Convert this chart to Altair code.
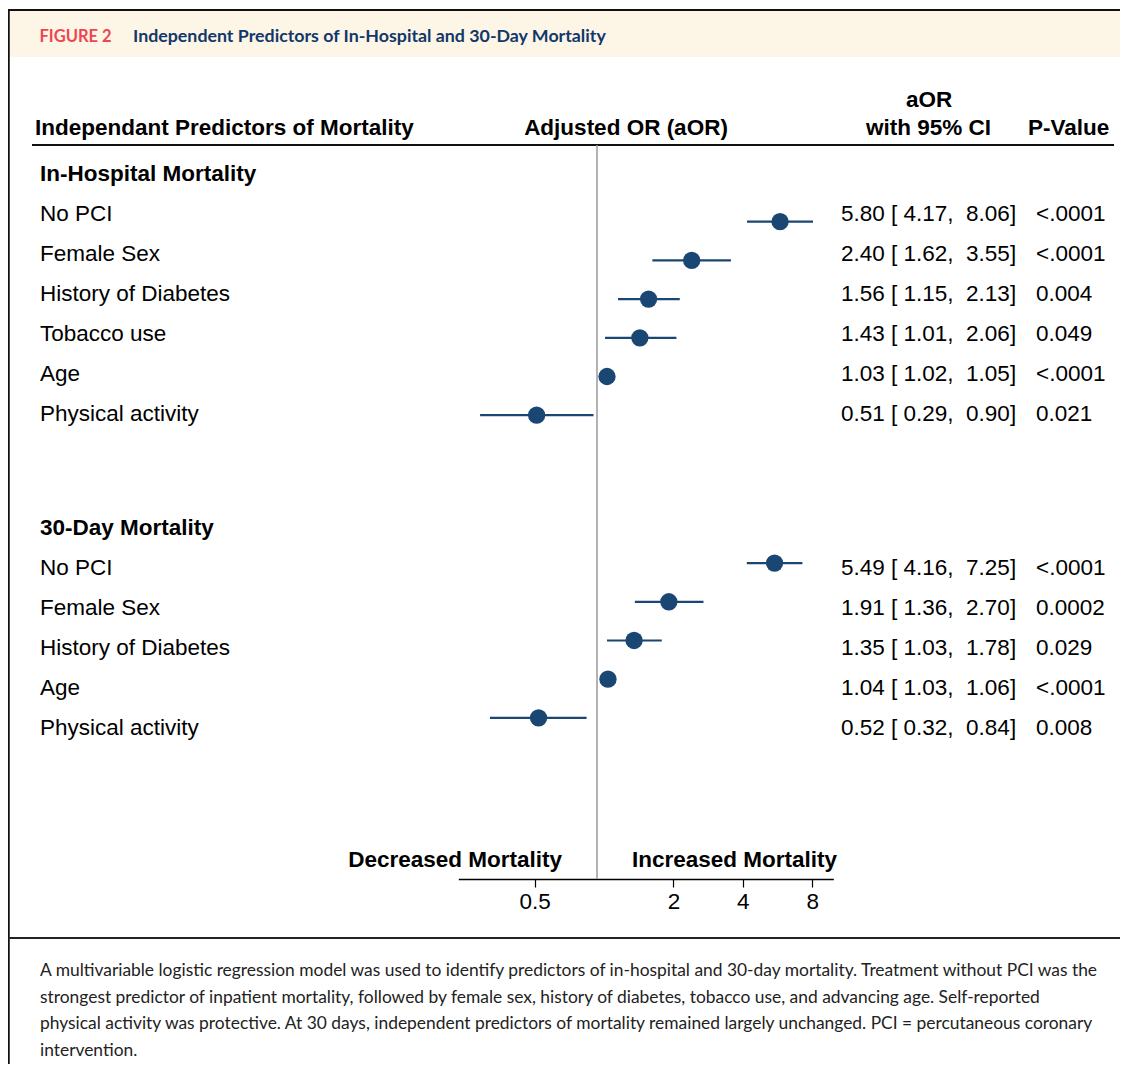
import altair as alt
import pandas as pd

# ---------------- data ----------------
section_titles = ["In-Hospital Mortality", "30-Day Mortality"]

inhosp_labels = ["No PCI", "Female Sex", "History of Diabetes", "Tobacco use", "Age", "Physical activity"]
inhosp_aor = [5.80, 2.40, 1.56, 1.43, 1.03, 0.51]
inhosp_lo = [4.17, 1.62, 1.15, 1.01, 1.02, 0.29]
inhosp_hi = [8.06, 3.55, 2.13, 2.06, 1.05, 0.90]
inhosp_p = ["<.0001", "<.0001", "0.004", "0.049", "<.0001", "0.021"]

day30_labels = ["No PCI", "Female Sex", "History of Diabetes", "Age", "Physical activity"]
day30_aor = [5.49, 1.91, 1.35, 1.04, 0.52]
day30_lo = [4.16, 1.36, 1.03, 1.03, 0.32]
day30_hi = [7.25, 2.70, 1.78, 1.06, 0.84]
day30_p = ["<.0001", "0.0002", "0.029", "<.0001", "0.008"]

x_ticks = [0.5, 2, 4, 8]

caption_lines = [
    "A multivariable logistic regression model was used to identify predictors of in-hospital and 30-day mortality. Treatment without PCI was the",
    "strongest predictor of inpatient mortality, followed by female sex, history of diabetes, tobacco use, and advancing age. Self-reported",
    "physical activity was protective. At 30 days, independent predictors of mortality remained largely unchanged. PCI = percutaneous coronary",
    "intervention.",
]

# ---------------- layout constants ----------------
W, H = 1112, 1056
FONT = "Liberation Sans"
FS = 22.5
CAP_FONT = "Lato"
NAVY = "#1a4673"
SECTION_START = [0.0, 8.86]   # row index of each section heading


def ci_text(o, lo, hi):
    s = f"{o:.2f} [{lo:5.2f}, {hi:5.2f}]"
    return s.replace(" ", "\u00a0")


def build(section, start, labels, aor, lo, hi, p):
    recs = []
    for i in range(len(labels)):
        recs.append(dict(section=section, row=start + 1 + i, label=labels[i], aor=aor[i],
                         lo=lo[i], hi=hi[i], ci=ci_text(aor[i], lo[i], hi[i]), p=p[i]))
    return pd.DataFrame(recs)


df_in = build(section_titles[0], SECTION_START[0], inhosp_labels, inhosp_aor, inhosp_lo, inhosp_hi, inhosp_p)
df_30 = build(section_titles[1], SECTION_START[1], day30_labels, day30_aor, day30_lo, day30_hi, day30_p)
df_all = pd.concat([df_in, df_30], ignore_index=True)
df_head = pd.DataFrame({"label": section_titles, "row": SECTION_START})
one = pd.DataFrame({"k": [0]})

# text rows (baseline positions) and plot rows use slightly different row pitches, as in the figure
Y_TXT = alt.Y("row:Q", scale=alt.Scale(domain=[0, 20], range=[172.7, 972.7], nice=False, zero=False), axis=None)
Y_DOT = alt.Y("row:Q", scale=alt.Scale(domain=[0, 20], range=[175, 949], nice=False, zero=False), axis=None)

xscale = alt.Scale(type="log", domain=[0.2333, 9.87], range=[450.3, 825.3], nice=False)
xaxis = alt.Axis(values=x_ticks, title=None, format="~g", offset=(879 - 8) - H, grid=False,
                 labelFont=FONT, labelFontSize=FS, labelColor="black", labelPadding=3,
                 tickColor="black", tickSize=8, tickWidth=1.2, domainColor="black", domainWidth=1.5,
                 labelFlush=False, labelOverlap=False)


def deco_rule(x, x2, y, y2, color="black", width=2):
    return alt.Chart(one).mark_rule(color=color, strokeWidth=width).encode(
        x=alt.value(x), x2=alt.value(x2), y=alt.value(y), y2=alt.value(y2))


def deco_text(txt, x, y, size=FS, bold=True, align="left", font=FONT, color="black"):
    return alt.Chart(one).mark_text(text=txt, align=align, baseline="alphabetic", font=font,
                                    fontSize=size, fontWeight="bold" if bold else "normal",
                                    color=color).encode(x=alt.value(x), y=alt.value(y))


# banner
banner = alt.Chart(one).mark_rect(color="#fdf6e6").encode(
    x=alt.value(1), x2=alt.value(W), y=alt.value(3), y2=alt.value(49))
top_border = deco_rule(0, W, 2, 2, "#111", 2)
left_border = deco_rule(0.5, 0.5, 2, H, "#111", 2.5)
fig_label = deco_text("FIGURE 2", 31.5, 33.7, size=16.5, font=CAP_FONT, color="#ee4553")
fig_title = deco_text("Independent Predictors of In-Hospital and 30-Day Mortality", 125, 33.7, size=17.8,
                      font=CAP_FONT, color="#12386a")

# column headers
h1 = deco_text("Independant Predictors of Mortality", 27, 127)
h2 = deco_text("Adjusted OR (aOR)", 618, 127, align="center")
h3 = deco_text("aOR", 921, 98.7, align="center")
h4 = deco_text("with 95% CI", 920.5, 127, align="center")
h5 = deco_text("P-Value", 1020, 127)
underline = deco_rule(24, 1106, 137, 137, "#111", 2)

divider = deco_rule(589, 589, 137, 871, "#9a9a9a", 1.5)
dec = deco_text("Decreased Mortality", 554, 859, align="right")
inc = deco_text("Increased Mortality", 624, 859)

cap_sep = deco_rule(0, W, 930, 930, "#222", 2)
caption = alt.Chart(one).mark_text(text=caption_lines, align="left", baseline="alphabetic",
                                   font=CAP_FONT, fontSize=17.4, lineHeight=26.7, color="#222").encode(
    x=alt.value(32), y=alt.value(968))

# section headings and row labels
heads = alt.Chart(df_head).mark_text(align="left", baseline="alphabetic", font=FONT, fontSize=FS,
                                      fontWeight="bold", color="black").encode(
    x=alt.value(32), y=Y_TXT, text="label:N")
labels = alt.Chart(df_all).mark_text(align="left", baseline="alphabetic", font=FONT, fontSize=FS,
                                     color="black").encode(x=alt.value(32), y=Y_TXT, text="label:N")
ci_col = alt.Chart(df_all).mark_text(align="left", baseline="alphabetic", font=FONT, fontSize=FS,
                                     color="black").encode(x=alt.value(833), y=Y_TXT, text="ci:N")
p_col = alt.Chart(df_all).mark_text(align="left", baseline="alphabetic", font=FONT, fontSize=FS,
                                    color="black").encode(x=alt.value(1028), y=Y_TXT, text="p:N")


def forest(df, yoff):
    bars = alt.Chart(df).mark_rule(color=NAVY, strokeWidth=2.2, yOffset=yoff).encode(
        x=alt.X("lo:Q", scale=xscale, axis=xaxis), x2="hi:Q", y=Y_DOT)
    dots = alt.Chart(df).mark_circle(color=NAVY, opacity=1, size=300, yOffset=yoff).encode(
        x=alt.X("aor:Q", scale=xscale, axis=xaxis), y=Y_DOT)
    return bars + dots


chart = alt.layer(
    banner, top_border, left_border, fig_label, fig_title,
    h1, h2, h3, h4, h5, underline, divider, dec, inc,
    heads, labels, ci_col, p_col,
    forest(df_in, 0), forest(df_30, -1.5),
    cap_sep, caption,
).resolve_scale(y="independent").properties(
    width=W, height=H, padding=0, background="white",
    autosize=alt.AutoSizeParams(type="none"),
).configure_view(stroke=None)

chart.save("out.html", embed_options={"renderer": "svg", "actions": False})
